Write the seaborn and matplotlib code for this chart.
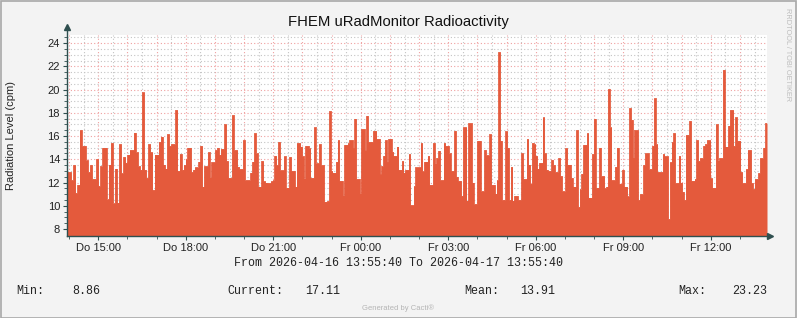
import numpy as np
import pandas as pd
import matplotlib
matplotlib.use("Agg")
import matplotlib.pyplot as plt
import seaborn as sns
from matplotlib.patches import Rectangle

# ---- data: radiation level (cpm), one list per 4-hour block starting 2026-04-16 13:55:40 ----
block_0 = [12.9, 12.9, 12.2, 13.5, 11.1, 11.8, 16.5, 15.15, 15.15, 13.9, 12.9, 13.5, 12.3, 12.3,
           14.0, 11.7, 13.4, 15.0, 15.0, 10.55, 13.55, 15.4, 10.2, 13.2, 10.27, 15.3, 12.8, 14.2,
           13.7, 14.4, 14.8, 14.8, 16.3, 14.6, 13.4, 13.1, 19.75, 13.1, 12.4, 15.3, 14.6, 11.35,
           14.4, 14.4, 15.5, 15.95, 13.55, 13.2, 16.15, 15.15, 15.3, 15.3, 18.25, 13.0, 14.45, 13.1]
block_1 = [13.5, 14.0, 15.0, 15.0, 12.9, 13.1, 13.3, 13.3, 13.8, 15.15, 11.65, 13.4, 13.4, 14.6,
           12.45, 13.75, 13.75, 14.8, 15.0, 14.4, 14.9, 14.9, 17.0, 13.85, 12.4, 12.4, 17.8, 14.8,
           14.8, 13.35, 13.15, 13.15, 15.65, 12.2, 12.2, 12.2, 12.85, 13.8, 16.25, 14.5, 11.65,
           11.65, 13.85, 12.1, 12.0, 11.95, 11.95, 12.1, 12.2, 14.3, 13.5, 15.5, 13.05, 13.05,
           14.25, 11.55, 11.55, 14.2, 13.0, 13.0, 11.65, 15.4, 15.4]
block_2 = [15.1, 14.25, 12.35, 15.15, 15.15, 14.95, 12.4, 12.4, 16.75, 13.65, 13.65, 15.3, 13.5,
           13.5, 10.35, 10.35, 10.4, 18.15, 13.0, 12.85, 12.85, 13.8, 15.65, 12.15, 12.15, 10.9,
           15.25, 15.25, 15.4, 15.65, 15.65, 15.0, 17.5, 12.3, 12.3, 11.05, 16.6, 16.6, 14.8,
           17.75, 15.5, 15.5, 15.5, 16.45, 16.45, 15.75, 15.75, 12.75, 13.4, 14.3, 15.65, 13.8,
           15.75, 15.75, 14.65, 14.3, 14.3, 15.1, 13.1, 13.1, 13.85, 12.85, 13.1, 13.1, 14.45,
           10.05, 10.05, 11.7, 13.3]
block_3 = [13.3, 13.3, 15.4, 12.95, 13.8, 13.8, 14.3, 11.8, 11.8, 15.4, 13.65, 14.1, 14.75, 12.2,
           12.2, 15.4, 15.15, 15.15, 14.5, 13.0, 13.0, 16.45, 12.5, 12.15, 12.15, 10.85, 16.75,
           16.75, 10.45, 17.1, 17.1, 12.0, 10.15, 10.15, 15.6, 15.6, 11.25, 11.25, 14.8, 14.35,
           14.35, 16.15, 11.8, 11.8, 11.05, 12.2, 23.23, 15.6, 10.5, 10.5, 16.4, 15.0, 10.5, 13.35,
           10.45, 10.85, 10.85, 10.5, 10.5, 14.5, 12.3, 12.3, 15.75, 13.55, 11.9, 15.4]
block_4 = [15.3, 14.3, 13.2, 13.7, 13.7, 17.6, 14.5, 13.1, 13.0, 13.0, 13.95, 13.5, 12.9, 12.9,
           14.1, 12.55, 11.25, 11.25, 14.95, 13.55, 13.55, 12.4, 11.65, 11.65, 16.5, 9.9, 11.4,
           12.75, 15.25, 15.25, 16.25, 10.7, 10.7, 14.45, 17.5, 11.55, 11.55, 15.0, 12.55, 12.55,
           11.5, 11.65, 20.05, 16.75, 12.2, 12.2, 13.35, 15.0, 11.9, 11.9, 13.1, 11.65, 11.65,
           10.8, 18.4, 17.4, 14.15, 16.5, 16.5, 10.5, 11.0, 11.0, 13.5, 14.5, 14.5, 13.15]
block_5 = [13.15, 15.15, 19.25, 15.3, 12.9, 12.9, 12.9, 14.45, 14.25, 14.25, 8.86, 13.75, 15.5,
           16.25, 11.95, 11.95, 14.3, 12.0, 11.2, 10.5, 16.1, 16.1, 17.3, 12.15, 12.15, 12.3,
           15.65, 13.85, 14.1, 14.1, 15.15, 15.3, 15.65, 15.65, 12.35, 11.55, 11.55, 17.0, 13.9,
           14.1, 14.1, 21.7, 15.1, 15.1, 16.9, 18.25, 18.25, 15.15, 17.6, 15.6, 15.6, 12.9, 11.95,
           11.95, 13.15, 14.8, 14.8, 11.95, 11.45, 12.3, 12.3, 12.8, 14.1, 14.1, 15.0, 17.11]
blocks = [block_0, block_1, block_2, block_3, block_4, block_5]
BLOCK_HOURS = 4
TOTAL_HOURS = 24

# x tick labels (every 3 h), first at 15:00 = 1h04m20s after start
tick_labels = ["Do 15:00", "Do 18:00", "Do 21:00", "Fr 00:00",
               "Fr 03:00", "Fr 06:00", "Fr 09:00", "Fr 12:00"]
first_full_hour = 4 / 60 + 20 / 3600  # 14:00 offset in hours from start
title = "FHEM uRadMonitor Radioactivity"
ylabel = "Radiation Level (cpm)"
range_text = "From 2026-04-16 13:55:40 To 2026-04-17 13:55:40"
stats = [("Min:", "8.86"), ("Current:", "17.11"), ("Mean:", "13.91"), ("Max:", "23.23")]

hours, cpm = [], []
for k, blk in enumerate(blocks):
    n = len(blk)
    for i, val in enumerate(blk):
        hours.append(k * BLOCK_HOURS + i * BLOCK_HOURS / n)
        cpm.append(val)
hours.append(TOTAL_HOURS)
cpm.append(cpm[-1])
df = pd.DataFrame({"hours": hours, "cpm": cpm})

# ---- style ----
sns.set_theme(style="white")
plt.rcParams["font.family"] = ["Liberation Sans", "DejaVu Sans"]
BG = "#f3f3f3"
FILL = "#e45a3c"
AXC = "#2f4f4f"

W, H = 797, 318
fig = plt.figure(figsize=(W / 100, H / 100), dpi=100, facecolor=BG)
ax = fig.add_axes([67 / W, (H - 235.7) / H, 700 / W, (235.7 - 35) / H])
ax.set_facecolor("white")

ymin, ymax = 7.42, 24.7
ax.set_xlim(0, TOTAL_HOURS)
ax.set_ylim(ymin, ymax)

ax.fill_between(df["hours"], ymin, df["cpm"], step="post", color=FILL, linewidth=0, zorder=2)
sns.lineplot(data=df, x="hours", y="cpm", drawstyle="steps-post", color=FILL, linewidth=0.6,
             ax=ax, zorder=3)

# grid (behind the area)
hour_lines = np.arange(first_full_hour, TOTAL_HOURS, 1.0)
half_lines = np.arange(first_full_hour + 0.5, TOTAL_HOURS, 1.0)
for xv in half_lines:
    ax.axvline(xv, color="#c4c4c4", lw=0.8, ls=(0, (1, 2)), zorder=1)
for xv in hour_lines:
    ax.axvline(xv, color="#f0a0a0", lw=0.8, ls=(0, (1, 2)), zorder=1)
for yv in np.arange(8, 25, 0.5):
    if yv % 2 == 0:
        ax.axhline(yv, color="#f0a0a0", lw=0.8, ls=(0, (1, 2)), zorder=1)
    else:
        ax.axhline(yv, color="#c4c4c4", lw=0.8, ls=(0, (1, 2)), zorder=1)

# axes
for s in ["top", "right"]:
    ax.spines[s].set_visible(False)
for s in ["left", "bottom"]:
    ax.spines[s].set_color(AXC)
    ax.spines[s].set_linewidth(1.0)
    ax.spines[s].set_zorder(5)
ax.plot([0], [1.04], marker="^", ms=4.5, color=AXC, transform=ax.transAxes, clip_on=False)
ax.plot([1.005], [0], marker=">", ms=4.5, color=AXC, transform=ax.transAxes, clip_on=False)
ax.spines["left"].set_bounds(ymin, ymax + 0.5)

ax.set_yticks(np.arange(8, 25, 2))
ax.set_yticklabels([str(v) for v in range(8, 25, 2)])
ax.set_yticks(np.arange(8, 25, 0.5), minor=True)
label_pos = first_full_hour + 1 + 3 * np.arange(len(tick_labels))
ax.set_xticks(label_pos)
ax.set_xticklabels(tick_labels)
ax.set_xticks(hour_lines, minor=True)
ax.tick_params(axis="both", which="major", direction="out", length=3, width=0.8, color=AXC,
               labelsize=8, labelcolor="#222222", pad=2, left=True, bottom=True)
ax.tick_params(axis="both", which="minor", direction="out", length=2, width=0.6, color=AXC,
               left=True, bottom=True)
ax.set_xlabel("")
ax.set_ylabel(ylabel, fontsize=8, color="#222222")
ax.yaxis.set_label_coords((16 - 67) / 700, 0.5)

# texts
fig.text(398 / W, 1 - 22 / H, title, ha="center", va="center", fontsize=10.7, color="#111111")
fig.text(788 / W, 1 - 55 / H, "RRDTOOL / TOBI OETIKER", rotation=270, ha="center", va="center",
         fontsize=5.3, color="#bdbdbd")
fig.text(398 / W, 1 - 263 / H, range_text, ha="center", va="center", fontsize=8.4,
         family="Liberation Mono", color="#222222")
label_x = [16, 227, 464, 678]
value_x = [72, 305, 520, 732]
for (lab, val), lx, vx in zip(stats, label_x, value_x):
    fig.text(lx / W, 1 - 291 / H, lab, ha="left", va="center", fontsize=8.4,
             family="Liberation Mono", color="#222222")
    fig.text(vx / W, 1 - 291 / H, val, ha="left", va="center", fontsize=8.4,
             family="Liberation Mono", color="#222222")
fig.text(398 / W, 1 - 308 / H, "Generated by Cacti®", ha="center", va="center", fontsize=5.5,
         color="#b5b5b5")

fig.patches.append(Rectangle((0.5 / W, 0.5 / H), 1 - 1.5 / W, 1 - 1.5 / H, transform=fig.transFigure,
                             fill=False, edgecolor="#a8a8a8", linewidth=1.2))

fig.savefig("out.png", dpi=100, facecolor=BG)
